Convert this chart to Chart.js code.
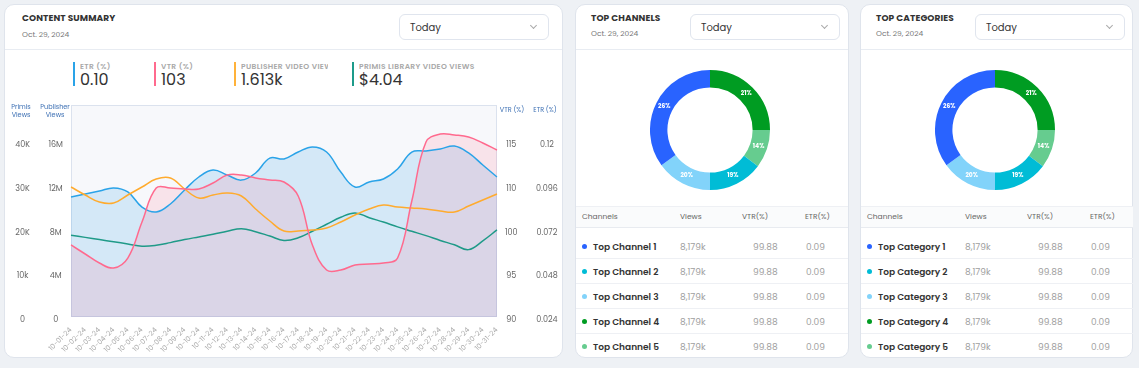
<!DOCTYPE html>
<html><head><meta charset="utf-8">
<script src="https://cdn.jsdelivr.net/npm/chart.js@4.4.0/dist/chart.umd.min.js"></script>
<style>
body{margin:0;width:1139px;height:368px;background:#eef1f5;font-family:Poppins,Inter,"Noto Sans",sans-serif;position:relative;overflow:hidden;color:#333}
.card{position:absolute;top:4px;height:354px;background:#fff;border:1px solid #dfe4ec;border-radius:10px;box-sizing:border-box}
.sep{position:absolute;height:1px;background:#e8ecf2}
.t{position:absolute;white-space:nowrap}
.title{font-size:9px;font-weight:700;color:#333;line-height:12px;letter-spacing:0.1px}
.date{font-size:7.5px;color:#777;line-height:10px}
.dd{position:absolute;height:26px;border:1px solid #e0e5ee;border-radius:6px;box-sizing:border-box;background:#fff}
.dd span{position:absolute;left:10px;top:6px;font-size:10px;line-height:13px;color:#333}
.dd i{position:absolute;right:12px;top:8px;width:4px;height:4px;border-right:1px solid #aaa;border-bottom:1px solid #aaa;transform:rotate(45deg)}
.kbar{position:absolute;top:62px;width:2px;height:24px}
.klab{font-size:7.5px;font-weight:600;color:#a8a8a8;line-height:9px;letter-spacing:0.35px;overflow:hidden}
.kval{font-size:16px;font-weight:400;color:#333;line-height:18px}
.axt{font-size:6.5px;color:#3d70b4;line-height:8px;text-align:center}
.th{font-size:7.5px;color:#666;line-height:10px}
.tn{font-size:9px;font-weight:600;color:#333;line-height:12px}
.tv{font-size:9px;color:#a0a0a0;line-height:12px}
.dot{position:absolute;width:5px;height:5px;border-radius:50%}
</style></head>
<body>
<div class="card" style="left:4px;width:559px"></div>
<div class="card" style="left:575px;width:274px"></div>
<div class="card" style="left:860px;width:273px"></div>
<div class="sep" style="left:5px;width:557px;top:49px"></div>
<div class="sep" style="left:576px;width:272px;top:49px"></div>
<div class="sep" style="left:861px;width:271px;top:49px"></div>

<div class="t title" style="left:22px;top:12px">CONTENT SUMMARY</div>
<div class="t date" style="left:22px;top:30px">Oct. 29, 2024</div>
<div class="dd" style="left:399px;top:14px;width:150px"><span>Today</span><i></i></div>

<div class="t title" style="left:591px;top:12px">TOP CHANNELS</div>
<div class="t date" style="left:591px;top:29px">Oct. 29, 2024</div>
<div class="dd" style="left:690px;top:14px;width:150px"><span>Today</span><i></i></div>

<div class="t title" style="left:876px;top:12px">TOP CATEGORIES</div>
<div class="t date" style="left:876px;top:29px">Oct. 29, 2024</div>
<div class="dd" style="left:975px;top:14px;width:150px"><span>Today</span><i></i></div>

<div id="kpis"></div>

<canvas id="main" width="559" height="258" style="position:absolute;left:4px;top:100px"></canvas>
<div class="t axt" style="left:1px;top:103px;width:40px">Primis<br>Views</div>
<div class="t axt" style="left:35px;top:103px;width:40px">Publisher<br>Views</div>
<div class="t axt" style="left:492px;top:106px;width:40px">VTR (%)</div>
<div class="t axt" style="left:525px;top:106px;width:40px">ETR (%)</div>

<canvas id="d1" width="120" height="120" style="position:absolute;left:650px;top:70px"></canvas>
<canvas id="d2" width="120" height="120" style="position:absolute;left:935px;top:70px"></canvas>
<div id="tables"></div>

<script>
const dates = ["10-01-24","10-02-24","10-03-24","10-04-24","10-05-24","10-06-24","10-07-24","10-08-24","10-09-24","10-10-24","10-11-24","10-12-24","10-13-24","10-14-24","10-15-24","10-16-24","10-17-24","10-18-24","10-19-24","10-20-24","10-21-24","10-22-24","10-23-24","10-24-24","10-25-24","10-26-24","10-27-24","10-28-24","10-29-24","10-30-24","10-31-24"];
const etrValues = [0.0898,0.0915,0.0931,0.0948,0.0926,0.0843,0.0816,0.0860,0.0937,0.1008,0.1046,0.1019,0.0991,0.1030,0.1112,0.1107,0.1145,0.1173,0.1145,0.1035,0.0953,0.0981,0.0997,0.1052,0.1145,0.1151,0.1162,0.1178,0.1140,0.1074,0.1008];
const vtrValues = [98.23,97.20,96.17,95.60,96.74,100.86,104.74,104.74,104.63,104.63,105.31,106.23,106.23,105.89,105.66,105.43,103.83,98.23,95.37,95.37,95.94,96.06,96.17,96.74,103.26,110.00,110.91,110.80,110.57,109.89,109.09];
const publisherViews = [11886000,11154000,10514000,10423000,11154000,11886000,12617000,12709000,11703000,10880000,11154000,11337000,11063000,9874000,8777000,7863000,7863000,7954000,8137000,8686000,9326000,9874000,10240000,10057000,9966000,9874000,9691000,9600000,10149000,10697000,11246000];
const primisViews = [18700,18200,17700,17200,16700,16200,16400,17000,17700,18300,18900,19600,20200,19500,18500,17500,18100,19600,21200,22800,23800,22700,21700,20600,19600,18600,17500,16500,15400,17400,19900];

const primisTickLabels = ["0","10k","20K","30K","40K"];
const publisherTickLabels = ["0","4M","8M","12M","16M"];
const vtrTickLabels = ["90","95","100","110","115"];
const etrTickLabels = ["0.024","0.048","0.072","0.096","0.12"];

const kpiLabels = ["ETR (%)","VTR (%)","PUBLISHER VIDEO VIEWS","PRIMIS LIBRARY VIDEO VIEWS"];
const kpiValues = ["0.10","103","1.613k","$4.04"];

const donutShares = [25, 10.3, 14.7, 15, 35];
const donutPctLabels = ["21%","14%","19%","20%","26%"];
const donutColors = ["#009c22","#66cc8f","#00bcd6","#82d3fa","#2963ff"];

const tableColors = ["#2963ff","#00bcd6","#82d3fa","#009c22","#66cc8f"];
const channelNames = ["Top Channel 1","Top Channel 2","Top Channel 3","Top Channel 4","Top Channel 5"];
const categoryNames = ["Top Category 1","Top Category 2","Top Category 3","Top Category 4","Top Category 5"];
const rowViews = ["8,179k","8,179k","8,179k","8,179k","8,179k"];
const rowVtr = ["99.88","99.88","99.88","99.88","99.88"];
const rowEtr = ["0.09","0.09","0.09","0.09","0.09"];

// KPIs
const kpiColors = ["#2aa3e8","#ff6a8e","#ffb23a","#1d9b8a"];
const kpiX = [73,154,234,352];
const kpiW = [60,60,87,140];
let kh = "";
kpiLabels.forEach((l,i)=>{
  kh += `<div class="kbar" style="left:${kpiX[i]}px;background:${kpiColors[i]}"></div>`;
  kh += `<div class="t klab" style="left:${kpiX[i]+7}px;top:62px;width:${kpiW[i]}px">${l}</div>`;
  kh += `<div class="t kval" style="left:${kpiX[i]+7}px;top:71px">${kpiValues[i]}</div>`;
});
document.getElementById('kpis').innerHTML = kh;

// tables
function table(x0, names){
  let h = `<div style="position:absolute;left:${x0+1}px;top:206px;width:272px;height:22px;background:#fafbfc;border-top:1px solid #eef0f4;border-bottom:1px solid #e8ebf0;box-sizing:border-box"></div>`;
  h += `<div class="t th" style="left:${x0+7}px;top:212px">Channels</div>`;
  h += `<div class="t th" style="left:${x0+105}px;top:212px">Views</div>`;
  h += `<div class="t th" style="left:${x0+167}px;top:212px">VTR(%)</div>`;
  h += `<div class="t th" style="left:${x0+230}px;top:212px">ETR(%)</div>`;
  names.forEach((n,i)=>{
    const y = 247 + i*25;
    h += `<div class="dot" style="left:${x0+7}px;top:${y-3}px;background:${tableColors[i]}"></div>`;
    h += `<div class="t tn" style="left:${x0+18}px;top:${y-6}px">${n}</div>`;
    h += `<div class="t tv" style="left:${x0+105}px;top:${y-6}px">${rowViews[i]}</div>`;
    h += `<div class="t tv" style="left:${x0+178}px;top:${y-6}px">${rowVtr[i]}</div>`;
    h += `<div class="t tv" style="left:${x0+231}px;top:${y-6}px">${rowEtr[i]}</div>`;
    if(i<4) h += `<div class="sep" style="left:${x0+1}px;width:272px;top:${y+11}px;background:#eef0f4"></div>`;
  });
  return h;
}
document.getElementById('tables').innerHTML = table(575, channelNames) + table(860, categoryNames);

Chart.defaults.font.family = 'Poppins, Inter, sans-serif';

const UNITS = 4.846;
function fixedTicks(min, step){
  return s => { s.ticks = [0,1,2,3,4].map(i=>({value: min + i*step})); };
}
const plotBg = {
  id:'plotBg',
  beforeDraw(c){
    const a=c.chartArea, ctx=c.ctx;
    ctx.save();
    ctx.fillStyle='#f7f8fb';
    ctx.fillRect(a.left,a.top,a.right-a.left,a.bottom-a.top);
    ctx.strokeStyle='#dbe2ee';
    ctx.lineWidth=1;
    ctx.strokeRect(a.left+0.5,a.top+0.5,a.right-a.left-1,a.bottom-a.top-1);
    ctx.restore();
  }
};
const tickFont = {size:8};
new Chart(document.getElementById('main'), {
  type:'line',
  data:{
    labels: dates,
    datasets:[
      {label:'VTR (%)', data:vtrValues, yAxisID:'yVtr', borderColor:'#ff6a8e', backgroundColor:'rgba(255,99,132,0.14)', fill:'origin'},
      {label:'Publisher Video Views', data:publisherViews, yAxisID:'yPub', borderColor:'#ffab2e', fill:false},
      {label:'Primis Library Video Views', data:primisViews, yAxisID:'yPrimis', borderColor:'#1f9a88', fill:false},
      {label:'ETR (%)', data:etrValues, yAxisID:'yEtr', borderColor:'#2aa3e8', backgroundColor:'rgba(54,162,235,0.18)', fill:'origin'}
    ]
  },
  options:{
    responsive:false, animation:false, devicePixelRatio:1,
    layout:{padding:{top:5,left:0,right:0,bottom:0}},
    elements:{point:{radius:0}, line:{tension:0.4, borderWidth:1.5}},
    plugins:{legend:{display:false}, tooltip:{enabled:false}, filler:{drawTime:'beforeDatasetsDraw'}},
    scales:{
      x:{grid:{display:false}, border:{display:false},
         ticks:{font:{size:7}, color:'#aaaaaa', maxRotation:45, minRotation:45, autoSkip:false, padding:1},
         afterFit:s=>{s.height=41;}},
      yPub:{position:'left', min:0, max:UNITS*4000000, grid:{display:false}, border:{display:false},
         afterBuildTicks:fixedTicks(0,4000000),
         ticks:{font:tickFont, color:'#666', crossAlign:'center', labelOffset:3, padding:0, callback:(v,i)=>publisherTickLabels[i]},
         afterFit:s=>{s.width=33;}},
      yPrimis:{position:'left', min:0, max:UNITS*10000, grid:{display:false}, border:{display:false},
         afterBuildTicks:fixedTicks(0,10000),
         ticks:{font:tickFont, color:'#666', crossAlign:'center', labelOffset:3, padding:0, callback:(v,i)=>primisTickLabels[i]},
         afterFit:s=>{s.width=34;}},
      yVtr:{position:'right', min:90, max:90+UNITS*5, grid:{display:false}, border:{display:false},
         afterBuildTicks:fixedTicks(90,5),
         ticks:{font:tickFont, color:'#666', crossAlign:'center', labelOffset:3, padding:0, callback:(v,i)=>vtrTickLabels[i]},
         afterFit:s=>{s.width=31;}},
      yEtr:{position:'right', min:0.024, max:0.024+UNITS*0.024, grid:{display:false}, border:{display:false},
         afterBuildTicks:fixedTicks(0.024,0.024),
         ticks:{font:tickFont, color:'#666', crossAlign:'center', labelOffset:3, padding:0, callback:(v,i)=>etrTickLabels[i]},
         afterFit:s=>{s.width=35;}}
    }
  },
  plugins:[plotBg]
});

const donutLabelPlugin = {
  id:'donutLabels',
  afterDatasetsDraw(c){
    const ctx=c.ctx;
    ctx.save();
    ctx.fillStyle='#fff';
    ctx.font='bold 6px Poppins, Inter, sans-serif';
    ctx.textAlign='center'; ctx.textBaseline='middle';
    c.getDatasetMeta(0).data.forEach((arc,i)=>{
      const p = arc.tooltipPosition();
      ctx.fillText(donutPctLabels[i], p.x, p.y);
    });
    ctx.restore();
  }
};
function donut(id, names){
  new Chart(document.getElementById(id), {
    type:'doughnut',
    data:{labels:[names[3],names[4],names[1],names[2],names[0]],
      datasets:[{data:donutShares, backgroundColor:donutColors, borderWidth:0}]},
    options:{responsive:false, animation:false, devicePixelRatio:1, cutout:'71%',
      layout:{padding:0},
      plugins:{legend:{display:false}, tooltip:{enabled:false}}},
    plugins:[donutLabelPlugin]
  });
}
donut('d1', channelNames);
donut('d2', categoryNames);
</script>
</body></html>
